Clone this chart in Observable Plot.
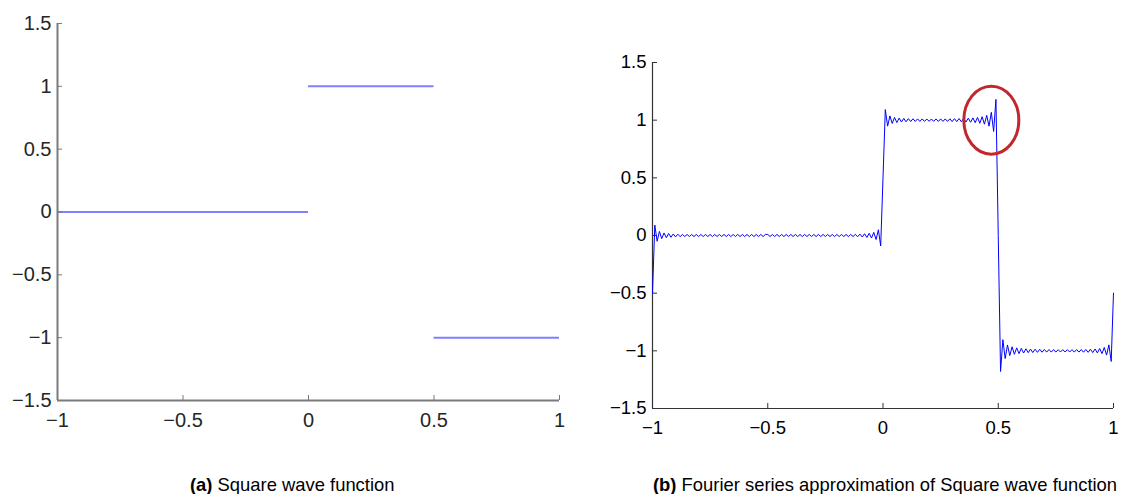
<!DOCTYPE html>
<html><head><meta charset="utf-8">
<script src="https://cdn.jsdelivr.net/npm/d3@7"></script>
<script src="https://cdn.jsdelivr.net/npm/@observablehq/plot@0.6"></script>
<style>
body{margin:0;background:#fff;}
#wrap{position:relative;width:1125px;height:494px;overflow:hidden;font-family:"Liberation Sans",Arial,sans-serif;}
#a{position:absolute;left:0;top:0;}
#b{position:absolute;left:580px;top:0;}
.cap{position:absolute;font-size:18.4px;line-height:18.4px;color:#000;white-space:nowrap;}
</style></head><body>
<div id="wrap"><div id="a"></div><div id="b"></div>
<div class="cap" id="capA" style="left:190px;top:476px"></div>
<div class="cap" id="capB" style="left:653px;top:476px"></div>
</div>
<script>
// ---- data ----
const xTicks = [-1, -0.5, 0, 0.5, 1];
const yTicks = [-1.5, -1, -0.5, 0, 0.5, 1, 1.5];

// (a) square wave: segment start, segment end, level
const squareX0 = [-1, 0, 0.5];
const squareX1 = [0, 0.5, 1];
const squareLevel = [0, 1, -1];

// (b) Fourier partial sum
const fourierX = [
-1,-.99,-.98,-.97,-.96,-.95,-.94,-.93,-.92,-.91,
-.9,-.89,-.88,-.87,-.86,-.85,-.84,-.83,-.82,-.81,
-.8,-.79,-.78,-.77,-.76,-.75,-.74,-.73,-.72,-.71,
-.7,-.69,-.68,-.67,-.66,-.65,-.64,-.63,-.62,-.61,
-.6,-.59,-.58,-.57,-.56,-.55,-.54,-.53,-.52,-.51,
-.5,-.49,-.48,-.47,-.46,-.45,-.44,-.43,-.42,-.41,
-.4,-.39,-.38,-.37,-.36,-.35,-.34,-.33,-.32,-.31,
-.3,-.29,-.28,-.27,-.26,-.25,-.24,-.23,-.22,-.21,
-.2,-.19,-.18,-.17,-.16,-.15,-.14,-.13,-.12,-.11,
-.1,-.09,-.08,-.07,-.06,-.05,-.04,-.03,-.02,-.01,
0,
.01,.02,.03,.04,.05,.06,.07,.08,.09,.1,
.11,.12,.13,.14,.15,.16,.17,.18,.19,.2,
.21,.22,.23,.24,.25,.26,.27,.28,.29,.3,
.31,.32,.33,.34,.35,.36,.37,.38,.39,.4,
.41,.42,.43,.44,.45,.46,.47,.48,.49,.5,
.51,.52,.53,.54,.55,.56,.57,.58,.59,.6,
.61,.62,.63,.64,.65,.66,.67,.68,.69,.7,
.71,.72,.73,.74,.75,.76,.77,.78,.79,.8,
.81,.82,.83,.84,.85,.86,.87,.88,.89,.9,
.91,.92,.93,.94,.95,.96,.97,.98,.99,1];
const fourierY = [
-.5,.091,-.050,.035,-.027,.022,-.019,.017,-.015,.013,
-.012,.011,-.010,.009,-.009,.009,-.009,.009,-.009,.009,
-.009,.009,-.009,.009,-.009,.009,-.009,.009,-.009,.009,
-.009,.009,-.009,.009,-.009,.009,-.009,.009,-.009,.009,
-.009,.009,-.009,.009,-.009,.009,-.009,.009,-.009,.009,
.009,-.009,.009,-.009,.009,-.009,.009,-.009,.009,-.009,
.009,-.009,.009,-.009,.009,-.009,.009,-.009,.009,-.009,
.009,-.009,.009,-.009,.009,-.009,.009,-.009,.009,-.009,
.009,-.009,.009,-.009,.009,-.009,.009,-.009,.010,-.011,
.012,-.013,.015,-.017,.019,-.022,.027,-.035,.050,-.091,
.5,
1.092,.948,1.037,.971,1.024,.979,1.018,.984,1.015,.986,
1.013,.988,1.012,.989,1.011,.989,1.011,.989,1.010,.990,
1.010,.990,1.011,.989,1.011,.989,1.011,.989,1.012,.988,
1.013,.987,1.014,.986,1.015,.984,1.017,.982,1.020,.978,
1.024,.973,1.030,.965,1.042,.948,1.068,.902,1.180,0,
-1.179,-.903,-1.067,-.949,-1.041,-.965,-1.030,-.974,-1.024,-.979,
-1.019,-.982,-1.016,-.985,-1.015,-.986,-1.013,-.987,-1.012,-.988,
-1.011,-.989,-1.011,-.989,-1.011,-.990,-1.010,-.990,-1.010,-.990,
-1.010,-.990,-1.011,-.989,-1.011,-.989,-1.012,-.988,-1.013,-.986,
-1.015,-.984,-1.018,-.980,-1.024,-.971,-1.037,-.948,-1.092,-.5];

// highlighted overshoot (red ellipse) centre
const highlightX = [0.47];
const highlightY = [1.0];

const captionA = ["(a)", " Square wave function"];
const captionB = ["(b)", " Fourier series approximation of Square wave function"];

// ---- build ----
const squareData = squareLevel.map((v, i) => ({x1: squareX0[i], x2: squareX1[i], y: v}));
const n = Math.min(fourierX.length, fourierY.length);
const fourierData = d3.range(n).map(i => ({x: fourierX[i], y: fourierY[i]}));
const highlightData = highlightX.map((x, i) => ({x, y: highlightY[i]}));

const fmt = d => (d < 0 ? "\u2212" : "") + String(Math.abs(d));

const ellipse = {
  draw(ctx) {
    const a = 27.5, b = 34, k = 0.5523;
    ctx.moveTo(a, 0);
    ctx.bezierCurveTo(a, k * b, k * a, b, 0, b);
    ctx.bezierCurveTo(-k * a, b, -a, k * b, -a, 0);
    ctx.bezierCurveTo(-a, -k * b, -k * a, -b, 0, -b);
    ctx.bezierCurveTo(k * a, -b, a, -k * b, a, 0);
    ctx.closePath();
  }
};

const font = "Liberation Sans, Arial, Helvetica, sans-serif";

const chartA = Plot.plot({
  width: 575, height: 440,
  marginLeft: 57, marginRight: 16, marginTop: 23, marginBottom: 40,
  style: {fontFamily: font, background: "transparent", overflow: "visible"},
  x: {domain: [-1, 1]},
  y: {domain: [-1.5, 1.5]},
  marks: [
    Plot.ruleY(squareData, {x1: "x1", x2: "x2", y: "y", stroke: "#8080ff", strokeWidth: 2}),
    Plot.ruleX([-1], {stroke: "#7a7a7a", strokeWidth: 2}),
    Plot.ruleY([-1.5], {stroke: "#7a7a7a", strokeWidth: 2}),
    Plot.axisX(xTicks, {anchor: "bottom", label: null, tickSize: -5, tickPadding: 17.5, tickFormat: fmt,
      stroke: "#7a7a7a", fill: "#262626", fontSize: 20}),
    Plot.axisY(yTicks, {anchor: "left", label: null, tickSize: -5, tickPadding: 11, tickFormat: fmt,
      stroke: "#7a7a7a", fill: "#262626", fontSize: 20})
  ]
});
document.getElementById("a").append(chartA);

const chartB = Plot.plot({
  width: 545, height: 440,
  marginLeft: 72, marginRight: 12, marginTop: 62, marginBottom: 32,
  style: {fontFamily: font, background: "transparent", overflow: "visible"},
  x: {domain: [-1, 1]},
  y: {domain: [-1.5, 1.5]},
  marks: [
    Plot.ruleX([-1], {stroke: "#333", strokeWidth: 1.2}),
    Plot.ruleY([-1.5], {stroke: "#333", strokeWidth: 1.2}),
    Plot.axisX(xTicks, {anchor: "bottom", label: null, tickSize: -5, tickPadding: 17.5, tickFormat: fmt,
      stroke: "#333", fill: "#000", fontSize: 18.5}),
    Plot.axisY(yTicks, {anchor: "left", label: null, tickSize: -5, tickPadding: 11, tickFormat: fmt,
      stroke: "#333", fill: "#000", fontSize: 18.5}),
    Plot.line(fourierData, {x: "x", y: "y", stroke: "#0000ff", strokeWidth: 1}),
    Plot.dot(highlightData, {x: "x", y: "y", symbol: ellipse, stroke: "#c0282d", strokeWidth: 3, fill: "none"})
  ]
});
document.getElementById("b").append(chartB);

function caption(el, parts) {
  const b = document.createElement("b");
  b.textContent = parts[0];
  el.append(b, document.createTextNode(parts[1]));
}
caption(document.getElementById("capA"), captionA);
caption(document.getElementById("capB"), captionB);
</script>
</body></html>
